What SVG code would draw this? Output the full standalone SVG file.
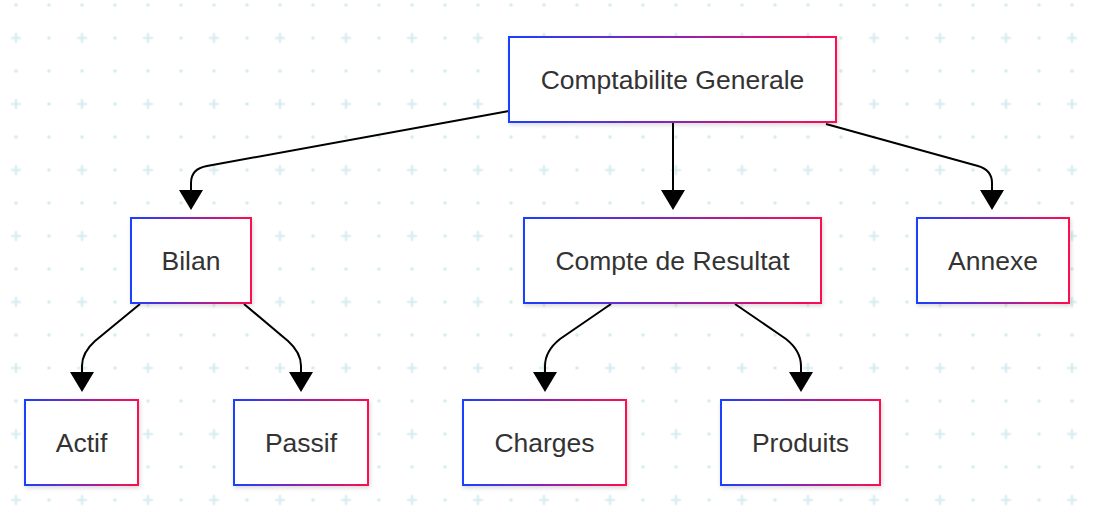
<svg xmlns="http://www.w3.org/2000/svg" width="1101" height="524" viewBox="0 0 1101 524">
<defs>
<pattern id="bg" x="-0.5" y="21.5" width="66" height="66" patternUnits="userSpaceOnUse">
<path d="M11.5,16.5 H21.5 M16.5,11.5 V21.5" stroke="#d6ecf0" stroke-width="2.2"/>
<circle cx="49.5" cy="16.5" r="1.8" fill="#d6ecf0"/>
<circle cx="16.5" cy="49.5" r="1.8" fill="#d6ecf0"/>
<circle cx="49.5" cy="49.5" r="1.8" fill="#d6ecf0"/>
</pattern>
<linearGradient id="grad" x1="0" y1="0" x2="1" y2="0">
<stop offset="0" stop-color="#1a3fff"/>
<stop offset="0.5" stop-color="#8a25b0"/>
<stop offset="1" stop-color="#ff0d4f"/>
</linearGradient>
<filter id="sh" x="-10%" y="-10%" width="125%" height="130%">
<feDropShadow dx="1" dy="2" stdDeviation="2" flood-color="#000" flood-opacity="0.15"/>
</filter>
<marker id="arr" viewBox="0 -12 20 24" refX="0" refY="0" markerWidth="20" markerHeight="24" markerUnits="userSpaceOnUse" orient="auto">
<path d="M0,-12 L20,0 L0,12 z" fill="#000"/>
</marker>
<style>
.n rect{fill:#fff;stroke:url(#grad);stroke-width:2;filter:url(#sh)}
.n text{font-family:"Liberation Sans",Arial,sans-serif;font-size:26.5px;fill:#333;text-anchor:middle}
.e path{fill:none;stroke:#000;stroke-width:2;marker-end:url(#arr)}
</style>
</defs>
<rect width="1101" height="524" fill="#fff"/>
<rect width="1101" height="524" fill="url(#bg)"/>
<g id="edges" class="e">
<path d="M509,111 L207,166 C195,168 191,174 191,183 L191,190"/>
<path d="M673,123 L673,190"/>
<path d="M826,124 L978,166 C988,169 992,175 992,183 L992,190"/>
<path d="M140,304 L95,341 C86,349 82,358 82,366 L82,372"/>
<path d="M244,304 L288,341 C297,349 301,358 301,366 L301,372"/>
<path d="M611,304 L560,339 C550,347 545,356 545,366 L545,372"/>
<path d="M735,304 L786,339 C796,347 801,356 801,366 L801,372"/>
</g>
<g id="comptabilite" class="n"><rect x="509" y="37" width="327" height="85"/><text x="672.5" y="89">Comptabilite Generale</text></g>
<g id="bilan" class="n"><rect x="131" y="218" width="120" height="85"/><text x="191" y="270">Bilan</text></g>
<g id="compte" class="n"><rect x="524" y="218" width="297" height="85"/><text x="672.5" y="270">Compte de Resultat</text></g>
<g id="annexe" class="n"><rect x="917" y="218" width="152" height="85"/><text x="993" y="270">Annexe</text></g>
<g id="actif" class="n"><rect x="25" y="400" width="113" height="85"/><text x="81.5" y="452">Actif</text></g>
<g id="passif" class="n"><rect x="234" y="400" width="134" height="85"/><text x="301" y="452">Passif</text></g>
<g id="charges" class="n"><rect x="463" y="400" width="163" height="85"/><text x="544.5" y="452">Charges</text></g>
<g id="produits" class="n"><rect x="721" y="400" width="159" height="85"/><text x="800.5" y="452">Produits</text></g>
</svg>
